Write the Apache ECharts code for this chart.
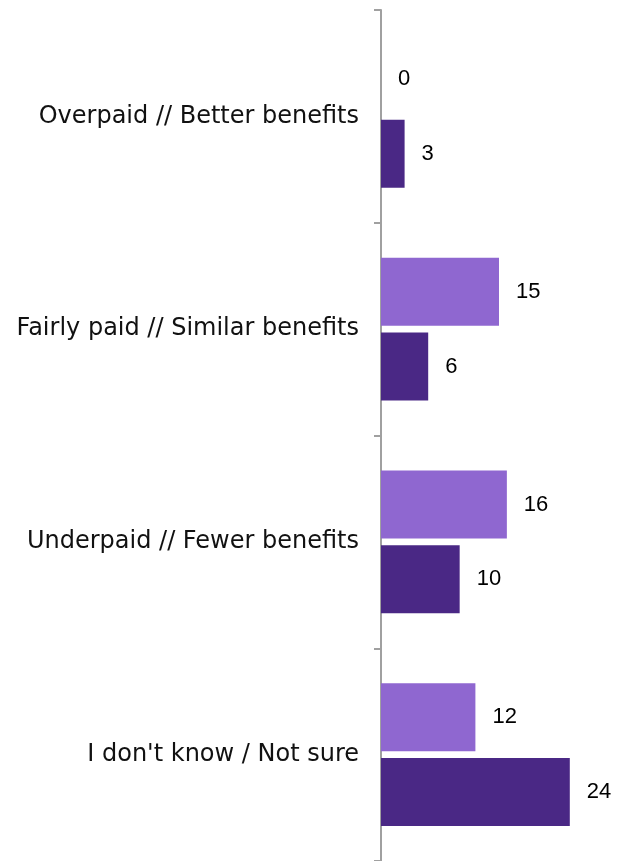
<!DOCTYPE html>
<html>
<head>
<meta charset="utf-8">
<script src="https://cdn.jsdelivr.net/npm/echarts@6/dist/echarts.min.js"></script>
<style>
  html, body { margin: 0; padding: 0; background: #fff; }
  #chart { width: 618px; height: 861px; }
</style>
</head>
<body>
<div id="chart"></div>
<script>
// Pay and benefits perception, two groups per answer
const categories = [
  'Overpaid // Better benefits',
  'Fairly paid // Similar benefits',
  'Underpaid // Fewer benefits',
  "I don't know / Not sure"
];
const lightValues = [0, 15, 16, 12];
const darkValues = [3, 6, 10, 24];

const chart = echarts.init(document.getElementById('chart'));

const valueLabel = {
  show: true,
  position: 'right',
  distance: 17,
  color: '#000',
  fontFamily: 'Liberation Sans',
  fontSize: 22
};

chart.setOption({
  animation: false,
  grid: { left: 381, top: 10, width: 236, height: 851 },
  xAxis: {
    type: 'value',
    min: 0,
    max: 30,
    show: false
  },
  yAxis: {
    type: 'category',
    inverse: true,
    data: categories,
    axisLine: { show: true, lineStyle: { color: '#a0a0a0', width: 2 } },
    axisTick: { show: true, inside: false, length: 7, lineStyle: { color: '#a0a0a0', width: 2 } },
    axisLabel: {
      margin: 22,
      color: '#111',
      fontFamily: 'DejaVu Sans',
      fontSize: 24
    },
    splitLine: { show: false }
  },
  series: [
    {
      type: 'bar',
      data: lightValues,
      barGap: '10%',
      barCategoryGap: '33%',
      itemStyle: { color: '#8f67d0' },
      label: valueLabel
    },
    {
      type: 'bar',
      data: darkValues,
      barGap: '10%',
      barCategoryGap: '33%',
      itemStyle: { color: '#4a2885' },
      label: valueLabel
    }
  ]
});
</script>
</body>
</html>
